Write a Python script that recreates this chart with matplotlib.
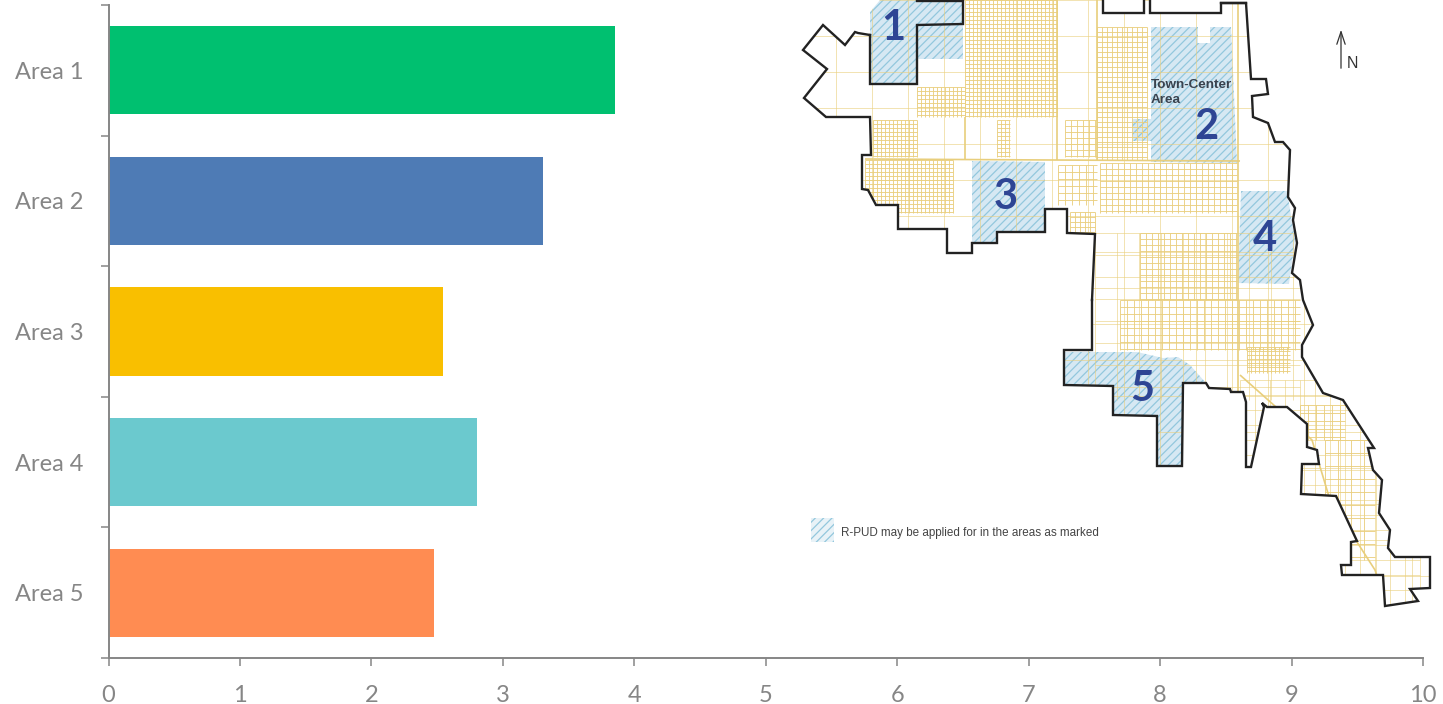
import matplotlib
matplotlib.use('Agg')
import numpy as np
import matplotlib.pyplot as plt
from matplotlib.collections import LineCollection
from matplotlib.patches import Polygon

plt.rcParams['font.family'] = ['Lato', 'DejaVu Sans']
plt.rcParams['hatch.linewidth'] = 0.9

# Chart data
areas = ['Area 1', 'Area 2', 'Area 3', 'Area 4', 'Area 5']
values = [3.855, 3.305, 2.545, 2.805, 2.475]
bar_colors = ['#00C070', '#4E7BB5', '#F9BF00', '#6BC9CE', '#FF8C52']
x_ticks = [0, 1, 2, 3, 4, 5, 6, 7, 8, 9, 10]

GREY = '#868686'
NAVY = '#2E4594'
PARCEL = '#EACF7E'

# Map picture, traced in pixels of the 1443x704 figure
boundary = [(880, 0), (870, 12), (870, 35), (858, 33), (855, 32), (845, 45), (823, 25), (803, 50),
            (827, 69), (804, 98), (826, 117), (870, 117), (871, 155), (862, 155), (862, 189),
            (868, 190), (876, 205), (898, 205), (898, 229), (947, 229), (947, 253), (972, 253),
            (972, 243), (997, 243), (997, 232), (1045, 232), (1045, 209), (1067, 209), (1067, 233),
            (1095, 234), (1092, 300), (1092, 350), (1064, 350), (1064, 385), (1113, 386),
            (1113, 415), (1157, 416), (1157, 466), (1182, 466), (1183, 383), (1206, 383),
            (1209, 388), (1230, 389), (1231, 392), (1243, 392), (1246, 402), (1246, 467),
            (1251, 467), (1264, 407), (1262, 403), (1267, 407), (1287, 407), (1307, 424),
            (1307, 447), (1317, 450), (1319, 464), (1302, 464), (1301, 494), (1336, 496),
            (1357, 541), (1351, 542), (1351, 565), (1341, 565), (1342, 575), (1383, 575),
            (1385, 606), (1418, 601), (1410, 589), (1430, 588), (1430, 557), (1395, 557),
            (1388, 548), (1390, 530), (1379, 513), (1382, 480), (1373, 470), (1368, 448),
            (1374, 448), (1343, 400), (1323, 393), (1302, 357), (1302, 345), (1313, 325),
            (1303, 300), (1300, 280), (1292, 273), (1297, 243), (1293, 220), (1295, 208),
            (1288, 197), (1290, 150), (1283, 142), (1275, 142), (1268, 123), (1253, 117),
            (1252, 96), (1268, 94), (1266, 79), (1251, 79), (1246, 3), (1221, 3), (1221, 13),
            (1150, 13), (1150, 0), (1144, 0), (1144, 13), (1103, 13), (1103, 0)]
region_1_line = [(917, 1), (963, 1), (963, 24), (917, 25), (917, 84), (870, 84), (870, 35)]
top_boxes = [[(1103, 0), (1103, 13), (1144, 13), (1144, 0)],
             [(1150, 0), (1150, 13), (1221, 13), (1221, 3), (1246, 3)]]

regions = [
    [(880, 0), (963, 0), (963, 59), (917, 59), (917, 84), (870, 84), (870, 12)],
    [(1151, 27), (1198, 27), (1198, 43), (1210, 43), (1210, 27), (1231, 27), (1237, 163),
     (1151, 162), (1151, 141), (1132, 141), (1132, 119), (1151, 119)],
    [(972, 161), (1045, 162), (1045, 232), (997, 232), (997, 243), (972, 243)],
    [(1241, 191), (1287, 191), (1295, 240), (1289, 284), (1238, 283)],
    [(1064, 352), (1137, 352), (1163, 358), (1178, 357), (1190, 365), (1206, 383), (1183, 383),
     (1182, 466), (1157, 466), (1157, 416), (1113, 415), (1113, 386), (1064, 385)],
]
region_labels = ['1', '2', '3', '4', '5']
label_xy = [(893, 28), (1206, 127), (1006, 197), (1265, 239), (1142, 389)]

# parcel blocks: x0, y0, x1, y1, spacing
parcel_blocks = [(965, 0, 1057, 117, 4), (917, 87, 965, 117, 4), (873, 120, 917, 157, 4),
                 (865, 160, 953, 213, 4), (1097, 27, 1147, 160, 5), (997, 120, 1010, 157, 4),
                 (1100, 163, 1237, 213, 6), (1140, 233, 1237, 300, 6), (1120, 300, 1300, 350, 7),
                 (1247, 347, 1290, 373, 4), (1065, 120, 1097, 157, 6), (1070, 212, 1095, 232, 5),
                 (1058, 165, 1097, 205, 7), (1300, 405, 1345, 440, 8), (1325, 440, 1375, 560, 13)]
parcel_wide = [(800, 0, 1440, 610, 36), (1240, 380, 1420, 610, 15), (1095, 233, 1300, 400, 22)]
roads = [[(1097, 0), (1097, 160)], [(865, 159), (1240, 161)], [(1238, 0), (1238, 400)],
         [(1240, 375), (1285, 415), (1312, 440), (1330, 500), (1375, 570), (1385, 600)],
         [(965, 117), (965, 160)], [(1057, 0), (1057, 160)]]


def grid_segments(x0, y0, x1, y1, step):
    segs = [[(x, y0), (x, y1)] for x in np.arange(x0, x1 + 0.1, step)]
    segs += [[(x0, y), (x1, y)] for y in np.arange(y0, y1 + 0.1, step)]
    return segs


def draw_path(axis, pts):
    xs, ys = zip(*pts)
    axis.plot(xs, ys, color='#222222', lw=1.7, solid_joinstyle='miter')


fig = plt.figure(figsize=(14.43, 7.04), dpi=100)
ax = fig.add_axes([108.5 / 1443, 1 - 658 / 704, (1423 - 108.5) / 1443, (658 - 5) / 704])

ax.barh(range(len(areas)), values, height=0.674, color=bar_colors)
ax.set_xlim(0, 10)
ax.set_ylim(4.5, -0.5)
ax.set_xticks(x_ticks)
ax.set_yticks(np.arange(-0.5, 5))
ax.set_yticklabels([])
ax.set_yticks(range(len(areas)), labels=areas, minor=True)
ax.tick_params(axis='y', which='major', length=5.5, width=1.1, color=GREY)
ax.tick_params(axis='y', which='minor', length=0, pad=18, labelsize=17, labelcolor=GREY)
ax.tick_params(axis='x', length=5.5, width=1.1, color=GREY, pad=14, labelsize=17, labelcolor=GREY)
for side in ['top', 'right']:
    ax.spines[side].set_visible(False)
for side in ['left', 'bottom']:
    ax.spines[side].set_color(GREY)
    ax.spines[side].set_linewidth(1.4)

# overlay in pixel coordinates for the map
mp = fig.add_axes([0, 0, 1, 1])
mp.set_xlim(0, 1443)
mp.set_ylim(704, 0)
mp.axis('off')

clip = Polygon(boundary, closed=True, transform=mp.transData, fc='none', ec='none')
mp.add_patch(clip)

dense = []
for block in parcel_blocks:
    dense += grid_segments(*block)
lines = LineCollection(dense, colors=PARCEL, linewidths=0.7, alpha=0.9)
mp.add_collection(lines)
lines.set_clip_path(clip)

wide = []
for block in parcel_wide:
    wide += grid_segments(*block)
lines = LineCollection(wide, colors=PARCEL, linewidths=0.7, alpha=0.6)
mp.add_collection(lines)
lines.set_clip_path(clip)

lines = LineCollection(roads, colors='#E8CE7C', linewidths=1.2)
mp.add_collection(lines)
lines.set_clip_path(clip)

for pts in regions:
    mp.add_patch(Polygon(pts, closed=True, fc='#D6E8F3', ec='#93C7DD', hatch='////', lw=0))

# black town limits, left open where the hatched areas have no line in the source
draw_path(mp, boundary[2:31])
draw_path(mp, boundary[30:101])
draw_path(mp, region_1_line)
for box in top_boxes:
    draw_path(mp, box)

for lab, (x, y) in zip(region_labels, label_xy):
    mp.text(x, y, lab, color=NAVY, fontsize=30, fontweight='bold', ha='center', va='center')

mp.text(1151, 84.5, 'Town-Center', family='Liberation Sans', fontsize=9.7, fontweight='bold',
        color='#39424E', va='center')
mp.text(1151, 100, 'Area', family='Liberation Sans', fontsize=9.7, fontweight='bold',
        color='#39424E', va='center')

# north arrow
mp.annotate('', xy=(1341, 27), xytext=(1341, 71),
            arrowprops=dict(arrowstyle='->,head_width=0.3,head_length=0.9', color='#333333', lw=0.9))
mp.text(1352, 63, 'N', family='Liberation Sans', fontsize=11.5, color='#333333', ha='center', va='center')

# map key
mp.add_patch(Polygon([(811, 518), (834, 518), (834, 542), (811, 542)], closed=True,
                     fc='#E8F2F7', ec='#93C7DD', hatch='////', lw=0))
mp.text(841, 533, 'R-PUD may be applied for in the areas as marked', family='Liberation Sans',
        fontsize=8.4, color='#444444', va='center')

fig.savefig('out.png', dpi=100)
